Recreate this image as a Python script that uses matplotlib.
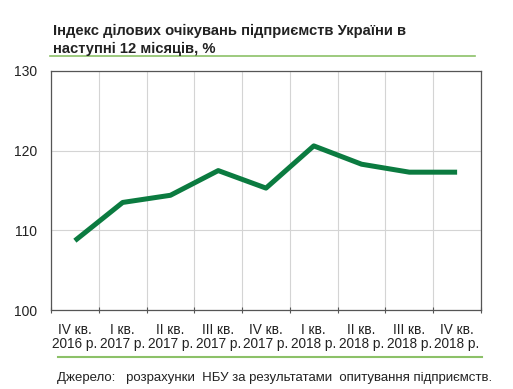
import matplotlib
matplotlib.use("Agg")
import matplotlib.pyplot as plt
from matplotlib.lines import Line2D

quarters = ["IV кв.", "I кв.", "II кв.", "III кв.", "IV кв.", "I кв.", "II кв.", "III кв.", "IV кв."]
years = ["2016 р.", "2017 р.", "2017 р.", "2017 р.", "2017 р.", "2018 р.", "2018 р.", "2018 р.", "2018 р."]
values = [108.7, 113.5, 114.4, 117.5, 115.3, 120.6, 118.3, 117.3, 117.3]
yticks = [100, 110, 120, 130]

plt.rcParams['font.family'] = ['Liberation Sans', 'DejaVu Sans']

W, H = 513, 389
fig = plt.figure(figsize=(W/100, H/100), dpi=100)
ax = fig.add_axes([51/W, 1-310/H, 430/W, 239/H])

x = [i + 0.5 for i in range(len(values))]
ax.plot(x, values, color='#0b7b40', lw=3.6, solid_capstyle='butt', zorder=3)

ax.set_xlim(0, len(values))
ax.set_ylim(100, 130)
ax.set_yticks(yticks)
ax.set_yticklabels([str(t) for t in yticks], fontsize=10, color='#222222')
ax.set_xticks(range(len(values) + 1))
ax.set_xticklabels([])
ax.set_xticks(x, minor=True)
ax.set_xticklabels([f"{q}\n{y}" for q, y in zip(quarters, years)], minor=True,
                   fontsize=9.8, color='#222222', linespacing=1.05)
ax.tick_params(axis='x', which='minor', length=0, pad=9)
ax.tick_params(axis='x', which='major', length=4, direction='inout', color='#555555')
ax.tick_params(axis='y', length=0, pad=10)

ax.grid(True, which='major', color='#d4d4d4', lw=0.8)
ax.set_axisbelow(True)
for s in ax.spines.values():
    s.set_color('#555555')
    s.set_linewidth(0.9)

fig.text(53/W, 1-24/H, "Індекс ділових очікувань підприємств України в\nнаступні 12 місяців, %",
         fontsize=10.6, fontweight='bold', color='#222222', va='top', ha='left', linespacing=1.3)
fig.add_artist(Line2D([50/W, 475/W], [1-56/H, 1-56/H], color='#8cc168', lw=1.2))
fig.add_artist(Line2D([58/W, 482/W], [1-357/H, 1-357/H], color='#8cc168', lw=1.5))
fig.text(57/W, 1-378/H, "Джерело:   розрахунки  НБУ за результатами  опитування підприємств.",
         fontsize=9.5, color='#222222', va='center', ha='left')

fig.savefig("out.png", dpi=100, facecolor='white')
